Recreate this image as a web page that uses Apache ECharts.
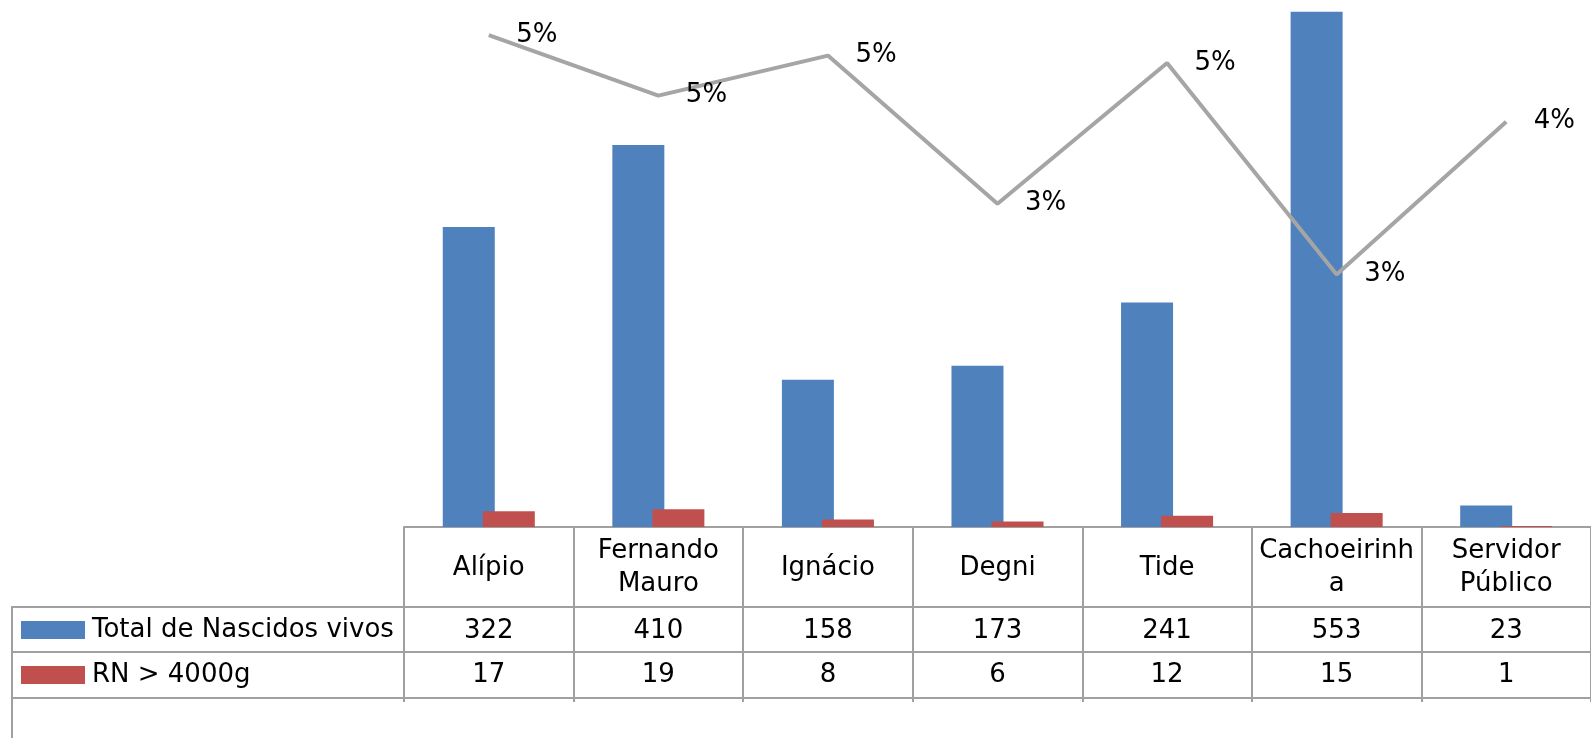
<!DOCTYPE html>
<html>
<head>
<meta charset="utf-8">
<script src="https://cdn.jsdelivr.net/npm/echarts@6/dist/echarts.min.js"></script>
<style>
html,body{margin:0;padding:0;background:#fff;}
#chart{width:1591px;height:738px;}
</style>
</head>
<body>
<div id="chart"></div>
<script>
const categories = ["Alípio","Fernando Mauro","Ignácio","Degni","Tide","Cachoeirinha","Servidor Público"];
const tickLabels = ["Alípio","Fernando\nMauro","Ignácio","Degni","Tide","Cachoeirinh\na","Servidor\nPúblico"];
const totalNascidos = [322,410,158,173,241,553,23];
const rnAcima4000 = [17,19,8,6,12,15,1];
const percentual = [0.0528,0.0463,0.0506,0.0347,0.0498,0.0271,0.0435];
const seriesNames = ["Total de Nascidos vivos","RN > 4000g","Percentual"];

const FONT = "DejaVu Sans";
const FS = 26;
const GRID_COLOR = "#A0A0A0";
// The original plot area extends 32px above the visible top (axis max 600 / 6%).
const PLOT_H = 527, FULL_H = 559;
const chart = echarts.init(document.getElementById('chart'), null, {renderer:'canvas'});

function rowAxis(values, margin){
  return {
    type:'category', gridIndex:0, position:'bottom', data:categories,
    axisLine:{show:false}, axisTick:{show:false}, splitLine:{show:false},
    axisLabel:{
      interval:0, margin:margin, verticalAlign:'middle',
      fontFamily:FONT, fontSize:FS, color:'#000',
      formatter:function(v,i){ return String(values[i]); }
    }
  };
}

chart.setOption({
  animation:false,
  backgroundColor:'#fff',
  grid:{left:404, right:-20.5, top:0, bottom:211, containLabel:false},
  legend:{
    data:[seriesNames[0], seriesNames[1]],
    orient:'vertical', left:21, top:616, padding:0,
    itemWidth:64, itemHeight:18, itemGap:17,
    icon:'rect',
    textStyle:{fontFamily:FONT, fontSize:FS, color:'#000', lineHeight:28, padding:[0,0,0,2]},
    selectedMode:false
  },
  xAxis:[
    {
      type:'category', data:categories, position:'bottom',
      axisLine:{show:true, lineStyle:{color:GRID_COLOR, width:2}},
      axisTick:{show:true, interval:0, length:175, lineStyle:{color:GRID_COLOR, width:2}},
      axisLabel:{
        interval:0, margin:41, verticalAlign:'middle', lineHeight:33,
        fontFamily:FONT, fontSize:FS, color:'#000', align:'center',
        formatter:function(v,i){ return tickLabels[i]; }
      },
      splitLine:{show:false}
    },
    rowAxis(totalNascidos, 104),
    rowAxis(rnAcima4000, 148)
  ],
  yAxis:[
    {type:'value', min:0, max:600*PLOT_H/FULL_H, show:false, splitLine:{show:false}},
    {type:'value', min:0, max:0.06*PLOT_H/FULL_H, show:false, splitLine:{show:false}}
  ],
  graphic:[
    {type:'line', shape:{x1:12,y1:607,x2:1591,y2:607}, style:{stroke:GRID_COLOR, lineWidth:2}, silent:true},
    {type:'line', shape:{x1:12,y1:652,x2:1591,y2:652}, style:{stroke:GRID_COLOR, lineWidth:2}, silent:true},
    {type:'line', shape:{x1:12,y1:698,x2:1591,y2:698}, style:{stroke:GRID_COLOR, lineWidth:2}, silent:true},
    {type:'line', shape:{x1:12,y1:606,x2:12,y2:738}, style:{stroke:GRID_COLOR, lineWidth:2}, silent:true}
  ],
  series:[
    {
      name:seriesNames[0], type:'bar', xAxisIndex:0, yAxisIndex:0,
      data:totalNascidos, barWidth:52, barGap:'-23%',
      itemStyle:{color:'#4F81BD'}
    },
    {
      name:seriesNames[1], type:'bar', xAxisIndex:0, yAxisIndex:0,
      data:rnAcima4000, barWidth:52,
      itemStyle:{color:'#C0504D'}
    },
    {
      name:seriesNames[2], type:'line', xAxisIndex:0, yAxisIndex:1,
      data:percentual, symbol:'circle', symbolSize:1, showSymbol:true, z:5,
      lineStyle:{color:'#A5A5A5', width:4},
      itemStyle:{color:'rgba(165,165,165,0)'},
      label:{
        show:true, position:'right', distance:27,
        fontFamily:FONT, fontSize:FS, color:'#000',
        formatter:function(p){ return Math.round(p.value*100)+'%'; }
      },
      labelLayout:{hideOverlap:false}
    }
  ]
});
</script>
</body>
</html>
